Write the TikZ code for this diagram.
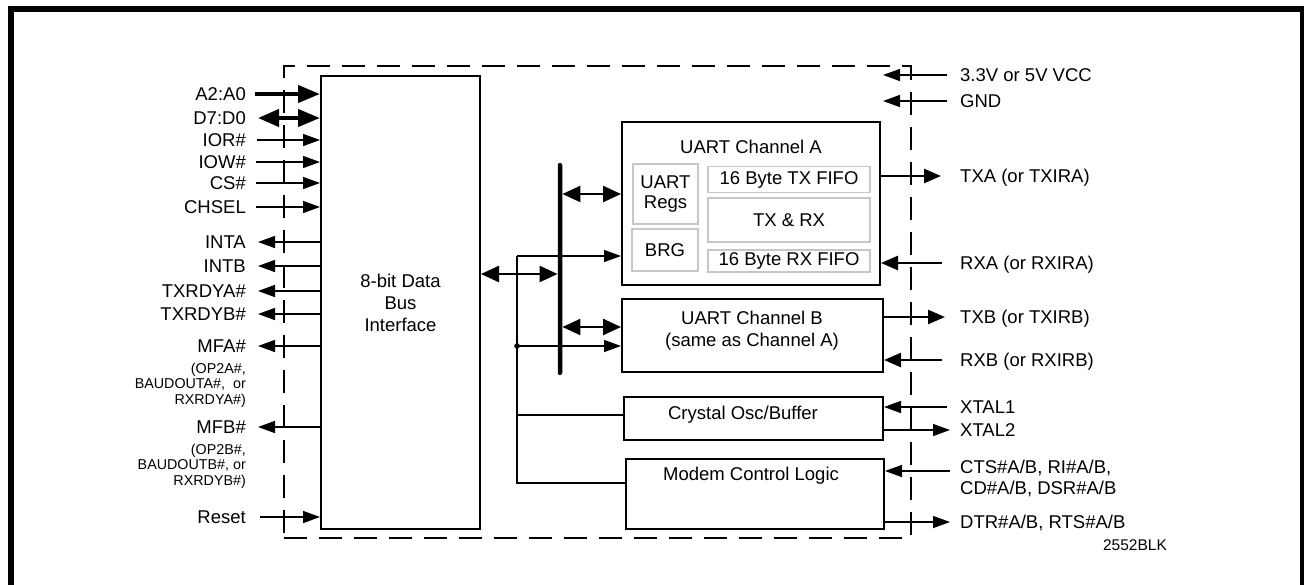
\documentclass[tikz,border=0pt]{standalone}
\usepackage{fontspec}
\setmainfont{Liberation Sans}
\usetikzlibrary{arrows.meta}

\begin{document}
\begin{tikzpicture}[x=1pt, y=-1pt,
        lbl/.style={inner sep=0pt, font=\fontsize{18.5}{22}\selectfont, text height=13.3pt, text depth=0pt},
        lbltwo/.style={inner sep=0pt, font=\fontsize{18.5}{21}\selectfont, align=left},
        note/.style={inner sep=0pt, font=\fontsize{14.3}{15.5}\selectfont, align=right},
        blk/.style={draw, line width=2pt, inner sep=0pt, font=\fontsize{18.5}{22}\selectfont, align=center},
        sub/.style={draw=black!22, line width=1.5pt, inner sep=0pt, font=\fontsize{18.5}{20}\selectfont, align=center},
        txt/.style={inner sep=0pt, font=\fontsize{18.5}{22}\selectfont, align=center},
        sig/.style={line width=1.5pt, -{Triangle[length=17pt,width=12pt]}},
        wsig/.style={line width=2.5pt, -{Triangle[length=17pt,width=14pt]}},
        fat/.style={line width=4pt, -{Triangle[length=22pt,width=17pt]}},
        busarr/.style={line width=2.5pt, {Triangle[length=18pt,width=16pt]}-{Triangle[length=18pt,width=16pt]}}
    ]
        \useasboundingbox (0,0) rectangle (1304,584);

        % Frame
        \draw[line width=6pt] (11,600) -- (11,9) -- (1303,9) -- (1303,600);

        % Chip outline
        \node[draw, line width=1.5pt, dash pattern=on 23pt off 12pt, inner sep=0pt,
              minimum width=627pt, minimum height=472pt] (chip) at (597.5,302) {};

        % Blocks
        \node[blk, minimum width=159pt, minimum height=453pt] (bif) at (400.5,302.5) {8-bit Data\\Bus\\Interface};
        \node[blk, minimum width=258pt, minimum height=163pt] (uarta) at (751,203.5) {};
        \node[txt] (uartatitle) at (751,147) {UART Channel A};
        \node[sub, minimum width=65pt, minimum height=60pt] (regs) at (665.5,194) {UART\\Regs};
        \node[sub, minimum width=66pt, minimum height=42pt] (brg) at (665,250) {BRG};
        \node[sub, minimum width=162pt, minimum height=26pt] (txfifo) at (789,179.5) {16 Byte TX FIFO};
        \node[sub, minimum width=162pt, minimum height=44pt] (txrx) at (789,220) {TX \& RX};
        \node[sub, minimum width=162pt, minimum height=22pt] (rxfifo) at (789,261) {16 Byte RX FIFO};
        \node[blk, minimum width=261pt, minimum height=73pt] (uartb) at (752.5,335.5) {};
        \node[txt] (uartbtxt) at (752,331) {UART Channel B\\(same as Channel A)};
        \node[blk, minimum width=259pt, minimum height=43pt] (xtal) at (753.5,418.5) {};
        \node[txt] (xtaltxt) at (743,415) {Crystal Osc/Buffer};
        \node[blk, minimum width=258pt, minimum height=70pt] (modem) at (755,494) {};
        \node[txt] (modemtxt) at (751,476) {Modem Control Logic};

        % Clock and control lines
        \coordinate (clka) at (517,256);
        \coordinate (clkb) at (517,346);
        \coordinate (clkx) at (517,415);
        \coordinate (clkm) at (517,483);
        \draw[line width=1.5pt] (clka) -- (clkm) -- (clkm -| modem.west);
        \draw[line width=1.5pt] (clkx) -- (clkx -| xtal.west);
        \draw[sig] (clka) -- (clka -| uarta.west);
        \draw[sig] (clkb) -- (clkb -| uartb.west);
        \fill (clkb) circle (2.8pt);

        % Internal bus
        \node[fill=black, inner sep=0pt, minimum width=4.5pt, minimum height=212pt, rounded corners=2pt] (bus) at (560,269) {};
        \coordinate (busin) at (560,274);
        \coordinate (busb) at (560,327);
        \draw[busarr] (busin -| bif.east) -- (busin -| bus.west);
        \draw[busarr] (bus.east |- regs) -- (regs -| uarta.west);
        \draw[busarr] (busb -| bus.east) -- (busb -| uartb.west);

        % Host side signals
        \node[lbl, anchor=east] (a2) at (246,94) {A2:A0};
        \node[lbl, anchor=east] (d7) at (246,118) {D7:D0};
        \node[lbl, anchor=east] (ior) at (246,140) {IOR\#};
        \node[lbl, anchor=east] (iow) at (246,162) {IOW\#};
        \node[lbl, anchor=east] (cs) at (246,183) {CS\#};
        \node[lbl, anchor=east] (chsel) at (246,207) {CHSEL};
        \node[lbl, anchor=east] (inta) at (246,242) {INTA};
        \node[lbl, anchor=east] (intb) at (246,266) {INTB};
        \node[lbl, anchor=east] (txrdya) at (246,291) {TXRDYA\#};
        \node[lbl, anchor=east] (txrdyb) at (246,314) {TXRDYB\#};
        \node[lbl, anchor=east] (mfa) at (246,346) {MFA\#};
        \node[note, anchor=north east] (mfanote) at (246,362.5) {(OP2A\#,\\BAUDOUTA\#,~ or\\RXRDYA\#)};
        \node[lbl, anchor=east] (mfb) at (246,427) {MFB\#};
        \node[note, anchor=north east] (mfbnote) at (246,443.5) {(OP2B\#,\\BAUDOUTB\#, or\\RXRDYB\#)};
        \node[lbl, anchor=east] (reset) at (246,517) {Reset};

        \draw[fat] ([xshift=9pt]a2.east) -- (a2 -| bif.west);
        \draw[line width=4pt, {Triangle[length=21pt,width=17pt]}-{Triangle[length=22pt,width=17pt]}] ([xshift=12pt]d7.east) -- (d7 -| bif.west);
        \draw[sig] ([xshift=11pt]ior.east) -- (ior -| bif.west);
        \draw[sig] ([xshift=10pt]iow.east) -- (iow -| bif.west);
        \draw[sig] ([xshift=10pt]cs.east) -- (cs -| bif.west);
        \draw[sig] ([xshift=10pt]chsel.east) -- (chsel -| bif.west);
        \draw[sig] (inta -| bif.west) -- ([xshift=12pt]inta.east);
        \draw[sig] (intb -| bif.west) -- ([xshift=12pt]intb.east);
        \draw[sig] (txrdya -| bif.west) -- ([xshift=12pt]txrdya.east);
        \draw[sig] (txrdyb -| bif.west) -- ([xshift=12pt]txrdyb.east);
        \draw[sig] (mfa -| bif.west) -- ([xshift=12pt]mfa.east);
        \draw[sig] (mfb -| bif.west) -- ([xshift=12pt]mfb.east);
        \draw[sig] ([xshift=14pt]reset.east) -- (reset -| bif.west);

        % Line side signals
        \node[lbl, anchor=west] (vcc) at (960,75) {3.3V or 5V VCC};
        \node[lbl, anchor=west] (gnd) at (960,101) {GND};
        \node[lbl, anchor=west] (txa) at (960,176) {TXA (or TXIRA)};
        \node[lbl, anchor=west] (rxa) at (960,263) {RXA (or RXIRA)};
        \node[lbl, anchor=west] (txb) at (960,317) {TXB (or TXIRB)};
        \node[lbl, anchor=west] (rxb) at (960,360) {RXB (or RXIRB)};
        \node[lbl, anchor=west] (xtal1) at (960,407) {XTAL1};
        \node[lbl, anchor=west] (xtal2) at (960,430) {XTAL2};
        \node[lbltwo, anchor=north west] (cts) at (960,460) {CTS\#A/B, RI\#A/B,\\CD\#A/B, DSR\#A/B};
        \node[lbl, anchor=west] (dtr) at (960,522) {DTR\#A/B, RTS\#A/B};

        \coordinate (vcctip) at (883,75);
        \coordinate (gndtip) at (883,101);
        \coordinate (ctsin) at ([yshift=-11pt]cts.north west);
        \draw[sig] ([xshift=-13pt]vcc.west) -- (vcctip);
        \draw[sig] ([xshift=-13pt]gnd.west) -- (gndtip);
        \draw[wsig] (txa -| uarta.east) -- ([xshift=-19pt]txa.west);
        \draw[wsig] ([xshift=-18pt]rxa.west) -- (rxa -| uarta.east);
        \draw[wsig] (txb -| uartb.east) -- ([xshift=-15pt]txb.west);
        \draw[wsig] ([xshift=-18pt]rxb.west) -- (rxb -| uartb.east);
        \draw[sig] ([xshift=-13pt]xtal1.west) -- (xtal1 -| xtal.east);
        \draw[sig] (xtal2 -| xtal.east) -- ([xshift=-10pt]xtal2.west);
        \draw[sig] ([xshift=-10pt]ctsin) -- (ctsin -| modem.east);
        \draw[sig] (dtr -| modem.east) -- ([xshift=-10pt]dtr.west);

        % Drawing number
        \node[inner sep=0pt, font=\fontsize{15.5}{17}\selectfont] (figid) at (1135,545) {2552BLK};
    \end{tikzpicture}
\end{document}
